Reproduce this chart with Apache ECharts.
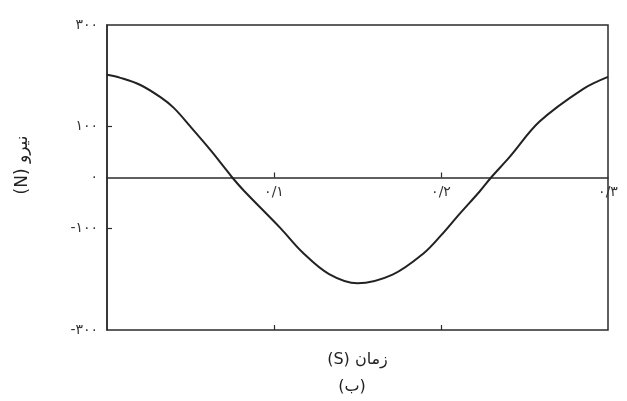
<!DOCTYPE html>
<html>
<head>
<meta charset="utf-8">
<script src="https://cdn.jsdelivr.net/npm/echarts@6/dist/echarts.min.js"></script>
<style>
  html, body { margin: 0; padding: 0; background: #ffffff; }
  #chart { width: 627px; height: 401px; }
</style>
</head>
<body>
<div id="chart"></div>
<script>
// Time samples (s) and the force (N)
const timeValues  = [0, 0.008, 0.02, 0.032, 0.04, 0.05, 0.062, 0.07, 0.075, 0.082, 0.104, 0.117, 0.133, 0.15, 0.171, 0.19, 0.2, 0.211, 0.223, 0.23, 0.241, 0.259, 0.285, 0.3];
const forceValues = [202, 196, 182, 158, 137, 100, 54, 21, 0, -26, -100, -147, -190, -208, -191, -148, -114, -72, -28, 0, 40, 110, 174, 198];

// Tick positions and their Persian labels
const xTickValues = [0.1, 0.2, 0.3];
const xTickLabels = ['۰/۱', '۰/۲', '۰/۳'];
const yLabelValues = [300, 100, 0, -100, -300];
const yLabelTexts  = ['۳۰۰', '۱۰۰', '۰', '-۱۰۰', '-۳۰۰'];
const yTickValues = [100, -100];

const xAxisTitle = '\u202Bزمان (S)\u202C';
const yAxisTitle = '\u202Bنیرو (N)\u202C';
const panelTag   = '\u202B(ب)\u202C';

const ink = '#2b2b2b';
const font = 'DejaVu Sans';

// plot frame
const W = 627, H = 401;
const gridLeft = 107, gridRight = 19, gridTop = 25, gridBottom = 71;
const yMin = -300, yMax = 300;
const plotHeight = H - gridTop - gridBottom;
// the labelled time axis runs along force = 0
const zeroOffset = -plotHeight * (0 - yMin) / (yMax - yMin);

const points = timeValues.map((t, i) => [t, forceValues[i]]);

function xLabel(v) {
  const i = xTickValues.findIndex(t => Math.abs(t - v) < 1e-9);
  return i >= 0 ? xTickLabels[i] : '';
}
function yLabel(v) {
  const i = yLabelValues.indexOf(Math.round(v));
  return i >= 0 ? yLabelTexts[i] : '';
}

const chart = echarts.init(document.getElementById('chart'), null, { renderer: 'canvas' });

chart.setOption({
  animation: false,
  backgroundColor: '#ffffff',
  grid: {
    left: gridLeft, right: gridRight, top: gridTop, bottom: gridBottom,
    show: true, borderColor: ink, borderWidth: 1.5, backgroundColor: 'transparent'
  },
  xAxis: [
    {
      type: 'value', min: 0, max: 0.3, interval: 0.1, position: 'bottom', offset: zeroOffset,
      axisLine: { show: true, onZero: false, lineStyle: { color: ink, width: 1.5 } },
      axisTick: { show: true, inside: true, length: 5, customValues: [0.1, 0.2], lineStyle: { color: ink, width: 1.2 } },
      axisLabel: {
        show: true, customValues: xTickValues, formatter: xLabel, margin: 8,
        color: '#333', fontFamily: font, fontSize: 14
      },
      splitLine: { show: false }
    },
    {
      // bottom frame edge with tick marks and the axis title
      type: 'value', min: 0, max: 0.3, interval: 0.1, position: 'bottom',
      axisLine: { show: false, onZero: false },
      axisTick: { show: true, inside: true, length: 5, customValues: [0.1, 0.2], lineStyle: { color: ink, width: 1.2 } },
      axisLabel: { show: false },
      splitLine: { show: false },
      name: xAxisTitle, nameLocation: 'middle', nameGap: 22,
      nameTextStyle: { color: '#222', fontFamily: font, fontSize: 16 }
    }
  ],
  yAxis: {
    type: 'value', min: yMin, max: yMax, interval: 100,
    axisLine: { show: true, onZero: false, lineStyle: { color: ink, width: 1.5 } },
    axisTick: { show: true, inside: true, length: 5, customValues: yTickValues, lineStyle: { color: ink, width: 1.2 } },
    axisLabel: {
      show: true, customValues: yLabelValues, formatter: yLabel, margin: 9,
      color: '#333', fontFamily: font, fontSize: 14
    },
    splitLine: { show: false }
  },
  graphic: [
    {
      type: 'text', x: 23, y: 165, rotation: Math.PI / 2,
      style: { text: yAxisTitle, fill: '#222', font: '17px "' + font + '"', align: 'center', verticalAlign: 'middle' }
    },
    {
      type: 'text', x: 352, y: 387,
      style: { text: panelTag, fill: '#222', font: '16px "' + font + '"', align: 'center', verticalAlign: 'middle' }
    }
  ],
  series: [
    {
      type: 'line', xAxisIndex: 0, yAxisIndex: 0,
      data: points, smooth: 0.35, showSymbol: false,
      lineStyle: { color: '#222', width: 2 }
    }
  ]
});
</script>
</body>
</html>
